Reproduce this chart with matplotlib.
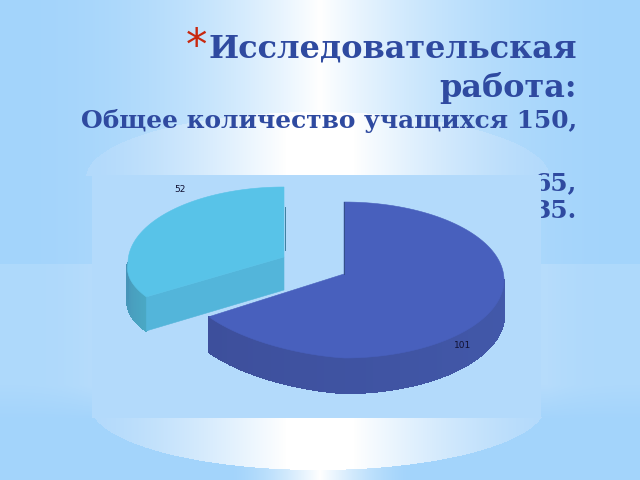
import numpy as np
import matplotlib
matplotlib.use('Agg')
import matplotlib.pyplot as plt
from matplotlib.patches import Polygon, Rectangle

# данные диаграммы
values = [101, 52]
value_labels = ['101', '52']
top_colors = ['#4860BD', '#58C3E8']
title_lines = ['Исследовательская', 'работа:']
subtitle = 'Общее количество учащихся 150,'
hidden_lines = ['65,', '35.']

W, H = 640, 480
TEXT_BLUE = '#2F4AA0'
EDGE = np.array([0xA3, 0xD4, 0xFB]) / 255
LIGHT = np.array([0xB3, 0xDA, 0xFB]) / 255
WHITE = np.array([1.0, 1.0, 1.0])


def mix(a, b, t):
    return a + (b - a) * t[..., None]


def make_background():
    yy, xx = np.mgrid[0:H, 0:W] + 0.5
    d = np.abs(xx - 320) / 320
    glow = np.clip(1 - d, 0, 1) ** 2.2
    img = mix(EDGE, WHITE, glow)

    # нижняя полоса, чуть светлее
    band = (yy >= 264) & (yy < 420)
    fade = np.clip((420 - yy) / 35, 0, 1)
    side = np.clip((xx - 0) / 92, 0, 1) * (xx < 320) + np.clip((W - xx) / 92, 0, 1) * (xx >= 320)
    band_light = mix(np.array([0xAE, 0xD9, 0xFB]) / 255, np.array([0xB6, 0xDC, 0xFB]) / 255, side ** 3)
    img[band] = (EDGE + (band_light - EDGE) * fade[..., None])[band]

    # блик снизу
    low = yy >= 420
    g = np.clip(1 - np.abs(xx - 320) / 90, 0, 1) ** 1.5
    img[low] = mix(EDGE, WHITE, g)[low]

    # купол над панелью
    dome = ((xx - 318) / 232) ** 2 + ((yy - 178) / 66) ** 2 <= 1
    dome &= yy < 176
    g = np.clip(1 - np.abs(xx - 320) / 228, 0, 1) ** 1.4
    dimg = mix(LIGHT, WHITE, np.clip(g * 1.25, 0, 1))
    img[dome] = dimg[dome]

    # чаша под панелью
    bowl = ((xx - 318) / 228) ** 2 + ((yy - 405) / 65) ** 2 <= 1
    bowl &= yy >= 417
    img[bowl] = dimg[bowl]
    return img


def arc(cx, cy, rx, ry, t0, t1, n=120, kx=0, ky=0):
    # t - угол по часовой стрелке от верхней точки
    t = np.radians(np.linspace(t0, t1, n))
    x = cx + rx * np.sin(t)
    y = cy - ry * np.cos(t)
    # нижняя левая четверть в оригинале не совсем эллипс
    corner = np.where((np.sin(t) < 0) & (np.cos(t) < 0), np.sin(t) * np.cos(t), 0)
    return x + kx * corner, y + ky * corner


def draw_wall(ax, xs, ys, depth, c0, c1, z):
    for i in range(len(xs) - 1):
        c = np.array(c0) + (np.array(c1) - np.array(c0)) * i / (len(xs) - 2)
        ax.add_patch(Polygon([(xs[i], ys[i]), (xs[i + 1], ys[i + 1]),
                              (xs[i + 1], ys[i + 1] + depth), (xs[i], ys[i] + depth)],
                             fc=c, ec=c, lw=1.0, antialiased=False, zorder=z))


fig = plt.figure(figsize=(6.4, 4.8), dpi=100)
ax = fig.add_axes([0, 0, 1, 1])
ax.set_xlim(0, W)
ax.set_ylim(H, 0)
ax.axis('off')
ax.imshow(make_background(), extent=(0, W, H, 0), aspect='auto', zorder=0)

# заголовок
ax.text(577, 58, title_lines[0], family='DejaVu Serif', weight='bold', fontsize=23,
        color=TEXT_BLUE, ha='right', va='baseline', zorder=2)
ax.text(577, 97, title_lines[1], family='DejaVu Serif', weight='bold', fontsize=23,
        color=TEXT_BLUE, ha='right', va='baseline', zorder=2)
ax.text(577, 128, subtitle, family='DejaVu Serif', weight='bold', fontsize=17.9,
        color=TEXT_BLUE, ha='right', va='baseline', zorder=2)
ax.text(577, 190, hidden_lines[0], family='DejaVu Serif', weight='bold', fontsize=17.9,
        color=TEXT_BLUE, ha='right', va='baseline', zorder=2)
ax.text(577, 218, hidden_lines[1], family='DejaVu Serif', weight='bold', fontsize=17.9,
        color=TEXT_BLUE, ha='right', va='baseline', zorder=2)
ax.text(186, 59, '*', family='DejaVu Sans', fontsize=31, color='#C8280F',
        ha='left', va='baseline', zorder=2)

# панель диаграммы закрывает часть текста
ax.add_patch(Rectangle((92, 175), 449, 243, fc=LIGHT, ec='none', zorder=3))

# секторы
split = 360 * values[0] / sum(values)
depth = 35

# большой сектор
cx, cy, rx, ry = 344, 280, 160, 78
apex = (344, 274)
xs, ys = arc(cx, cy, rx, ry, 90, split, 60, ky=-11)
draw_wall(ax, xs, ys, depth, (0.26, 0.35, 0.67), (0.24, 0.31, 0.61), 4)
xs, ys = arc(cx, cy, rx, ry, 0, split, ky=-11)
ax.add_patch(Polygon(list(zip(xs, ys)) + [apex], fc=top_colors[0], ec=top_colors[0], lw=0.4, zorder=5))
ax.plot([344, 344], [ys[0], apex[1]], color='#34508A', lw=0.7, zorder=6)

# малый сектор
cx2, cy2, rx2, ry2 = 284, 263, 156, 76
apex2 = (284, 257)
xw, yw = arc(cx2, cy2, rx2, ry2, split, 270, 40, kx=-13, ky=-15)
draw_wall(ax, xw, yw, 34, (0.29, 0.66, 0.77), (0.28, 0.58, 0.72), 4)
xs2, ys2 = arc(cx2, cy2, rx2, ry2, split, 360, kx=-13, ky=-15)
ax.add_patch(Polygon([(xs2[0], ys2[0]), apex2, (apex2[0], apex2[1] + 33), (xs2[0], ys2[0] + 34)],
                     fc='#53B5DA', ec='#53B5DA', lw=0.4, zorder=4))
ax.add_patch(Polygon(list(zip(xs2, ys2)) + [apex2], fc=top_colors[1], ec=top_colors[1], lw=0.4, zorder=5))
ax.plot([285, 285], [207, 250], color='#3F7F9F', lw=0.7, zorder=6)

# подписи значений
ax.text(463, 345, value_labels[0], fontsize=6.5, color='#111133', ha='center', va='center', zorder=7)
ax.text(180, 189, value_labels[1], fontsize=6.5, color='#111133', ha='center', va='center', zorder=7)

fig.savefig('out.png', dpi=100)
